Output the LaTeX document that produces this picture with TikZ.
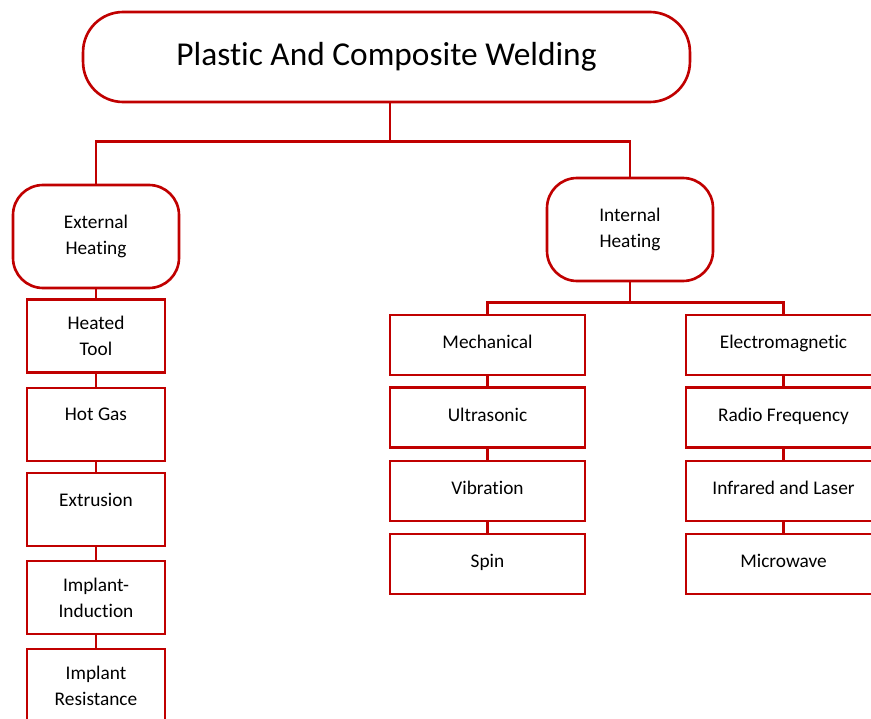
\documentclass[tikz,border=0pt]{standalone}
\usepackage{fontspec}
\setmainfont{Carlito}[Ligatures=NoCommon]
\usetikzlibrary{positioning}
\definecolor{wred}{RGB}{192,0,0}

\begin{document}
\begin{tikzpicture}[
  x=0.02cm, y=-0.02cm,
  con/.style={draw=wred, line width=1.4pt},
  root/.style={draw=wred, line width=1.5pt, rounded corners=0.8cm,
    minimum width=12.14cm, minimum height=1.8cm,
    font=\fontsize{19}{23}\selectfont},
  grp/.style={draw=wred, line width=1.5pt, rounded corners=0.6cm,
    minimum width=3.32cm, minimum height=2.06cm, align=center,
    font=\fontsize{11}{14.8}\selectfont},
  leaf/.style={draw=wred, line width=1.5pt, minimum width=2.76cm,
    minimum height=1.46cm, align=center,
    font=\fontsize{11}{14.8}\selectfont},
  wleaf/.style={leaf, minimum width=3.9cm, minimum height=1.2cm},
  one/.style={text depth=#1}
]

\useasboundingbox (0,0) rectangle (871,719);
\clip (0,0) rectangle (871,719);

% Top level
\node[root] (root) at (386.5,57) {Plastic And Composite Welding};

% Two heating groups
\node[grp] (ext) at (96,236.5) {External\\Heating};
\node[grp] (int) at (630,229.5) {Internal\\Heating};

\draw[con] ([xshift=0.07cm]root.south) -- ++(0,38) coordinate (rj);
\draw[con] (ext.north) |- (rj) -| (int.north);

% External heating methods
\node[leaf] (tool) at (96,336) {Heated\\Tool};
\node[leaf, one=0.4cm] (hgas) at (96,424.5) {Hot Gas};
\node[leaf, one=0.4cm] (extr) at (96,509.5) {Extrusion};
\node[leaf] (iind) at (96,597.5) {Implant-\\Induction};
\node[leaf] (ires) at (96,685.5) {Implant\\Resistance};

\foreach \a/\b in {ext/tool, tool/hgas, hgas/extr, extr/iind, iind/ires} {
  \draw[con] (\a.south) -- (\b.north);
}

% Internal heating methods
\foreach \nm/\yy/\txt in {mech/345/Mechanical, ultra/417.5/Ultrasonic,
    vib/491/Vibration, spin/564/Spin} {
  \node[wleaf, one=0.12cm] (\nm) at (487.5,\yy) {\txt};
}
\foreach \nm/\yy/\txt in {em/345/Electromagnetic, rf/417.5/Radio Frequency,
    ir/491/Infrared and Laser, mw/564/Microwave} {
  \node[wleaf, one=0.12cm] (\nm) at (783.5,\yy) {\txt};
}

\draw[con] (int.south) -- ++(0,20) coordinate (ij);
\draw[con] (mech.north) |- (ij) -| (em.north);

\foreach \a/\b in {mech/ultra, ultra/vib, vib/spin, em/rf, rf/ir, ir/mw} {
  \draw[con] (\a.south) -- (\b.north);
}

\end{tikzpicture}
\end{document}
